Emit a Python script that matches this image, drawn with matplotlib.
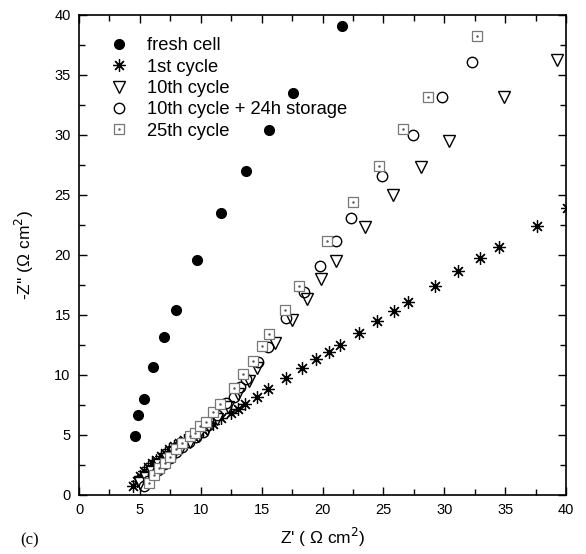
import matplotlib
matplotlib.use("Agg")
import matplotlib.pyplot as plt
from matplotlib.ticker import MultipleLocator
from matplotlib.legend_handler import HandlerTuple

plt.rcParams['font.family'] = ['Liberation Sans', 'DejaVu Sans']

# Data (Z' , -Z'') in Ohm cm^2
fresh_x = [4.6, 4.85, 5.3, 6.1, 7.0, 7.95, 9.7, 11.7, 13.7, 15.6, 17.6, 21.6]
fresh_y = [4.9, 6.7, 8.0, 10.7, 13.2, 15.4, 19.6, 23.5, 27.0, 30.4, 33.5, 39.1]

c1_x = [4.45, 4.75, 5.05, 5.35, 5.65, 6.0, 6.35, 6.7, 7.05, 7.4, 7.8, 8.2, 8.65, 9.1,
        9.6, 10.2, 11.0, 11.7, 12.5, 13.1, 13.6, 14.6, 15.5, 17.0, 18.3, 19.5, 20.5,
        21.4, 23.0, 24.5, 25.9, 27.0, 29.2, 31.1, 32.9, 34.5, 37.6, 40.1]
c1_y = [0.75, 1.2, 1.6, 2.0, 2.35, 2.65, 2.95, 3.25, 3.5, 3.8, 4.05, 4.3, 4.55, 4.8,
        5.1, 5.4, 5.9, 6.4, 6.8, 7.2, 7.6, 8.2, 8.8, 9.75, 10.6, 11.3, 11.9,
        12.5, 13.5, 14.5, 15.3, 16.1, 17.4, 18.7, 19.75, 20.7, 22.4, 23.9]

c10_x = [5.0, 5.5, 6.0, 6.6, 7.2, 7.8, 8.4, 9.1, 9.8, 10.5, 11.3, 12.2, 13.1, 14.0,
         14.6, 16.1, 17.5, 18.7, 19.9, 21.1, 23.5, 25.8, 28.1, 30.4, 34.9, 39.3]
c10_y = [1.0, 1.4, 1.9, 2.5, 3.0, 3.5, 3.9, 4.4, 4.9, 5.5, 6.3, 7.3, 8.4, 9.5,
         10.6, 12.7, 14.6, 16.3, 18.0, 19.5, 22.3, 25.0, 27.3, 29.5, 33.2, 36.25]

c10s_x = [5.3, 5.7, 6.1, 6.5, 7.0, 7.5, 8.0, 8.5, 9.0, 9.6, 10.2, 10.6, 11.3, 12.1,
          12.7, 13.2, 13.7, 14.7, 15.5, 17.0, 18.5, 19.8, 21.1, 22.3, 24.9, 27.4,
          29.8, 32.3]
c10s_y = [0.75, 1.2, 1.7, 2.1, 2.6, 3.1, 3.6, 4.0, 4.4, 4.8, 5.25, 5.8, 6.7, 7.7,
          8.2, 9.0, 9.7, 11.1, 12.3, 14.75, 16.9, 19.1, 21.2, 23.1, 26.6, 30.0,
          33.2, 36.1]

c25_x = [5.75, 6.2, 6.6, 7.1, 7.5, 8.0, 8.5, 9.1, 9.5, 9.9, 10.4, 11.0, 11.6, 12.7,
         13.5, 14.3, 15.0, 15.6, 16.9, 18.1, 20.4, 22.5, 24.6, 26.6, 28.7, 32.7]
c25_y = [1.0, 1.67, 2.25, 2.7, 3.2, 3.8, 4.3, 4.9, 5.2, 5.75, 6.1, 6.9, 7.6, 8.9,
         10.1, 11.2, 12.4, 13.4, 15.4, 17.4, 21.2, 24.4, 27.4, 30.5, 33.2, 38.25]

labels = ["fresh cell", "1st cycle", "10th cycle", "10th cycle + 24h storage", "25th cycle"]

fig = plt.figure(figsize=(5.86, 5.54), dpi=100)
ax = fig.add_axes([79/586, 1-495/554, (566-79)/586, (495-15)/554])

h1, = ax.plot(fresh_x, fresh_y, 'o', color='black', ms=7, ls='none')
h2, = ax.plot(c1_x, c1_y, marker=(8, 2, 0), color='black', ms=9, mew=0.9, ls='none')
h3, = ax.plot(c10_x, c10_y, 'v', mfc='white', mec='black', ms=8, mew=1.0, ls='none')
h4, = ax.plot(c10s_x, c10s_y, 'o', mfc='none', mec='black', ms=7.5, mew=1.0, ls='none')
h5a, = ax.plot(c25_x, c25_y, 's', mfc='white', mec='#777777', ms=6.5, mew=0.9, ls='none')
h5b, = ax.plot(c25_x, c25_y, '.', color='#555555', ms=1.5, ls='none')

ax.set_xlim(0, 40)
ax.set_ylim(0, 40)
ax.xaxis.set_major_locator(MultipleLocator(5))
ax.xaxis.set_minor_locator(MultipleLocator(2.5))
ax.yaxis.set_major_locator(MultipleLocator(5))
ax.yaxis.set_minor_locator(MultipleLocator(2.5))
ax.tick_params(which='both', direction='in', top=True, right=True, labelsize=10.5, width=1)
ax.tick_params(which='major', length=6, pad=6)
ax.tick_params(which='minor', length=4)
for s in ax.spines.values():
    s.set_linewidth(1.2)

ax.set_xlabel("Z' ( \u03a9 cm$^2$)", fontsize=12.5, labelpad=6)
ax.set_ylabel("-Z'' (\u03a9 cm$^2$)", fontsize=12.5, labelpad=13)

leg = ax.legend([h1, h2, h3, h4, (h5a, h5b)], labels, loc='upper left',
                bbox_to_anchor=(0.021, 0.988), frameon=False, fontsize=13.2,
                handletextpad=0.85, labelspacing=0.24, handlelength=1.4,
                handler_map={tuple: HandlerTuple(ndivide=1, pad=0)})

fig.text(20/586, 1-540/554, "(c)", family='Liberation Serif', fontsize=12, va='center')

fig.savefig("out.png", dpi=100)
